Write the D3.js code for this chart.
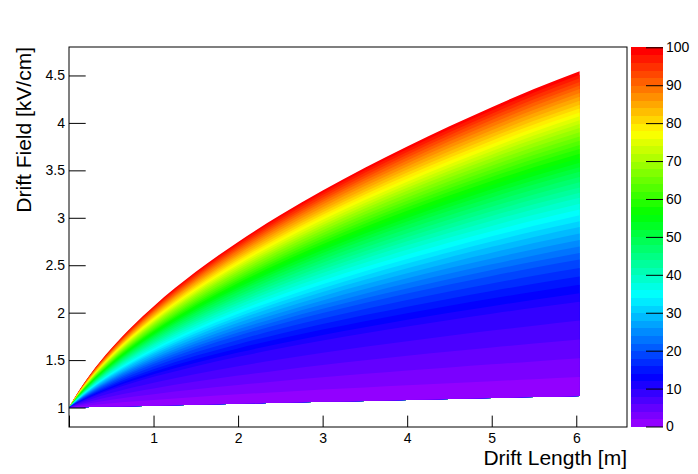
<!DOCTYPE html>
<html><head><meta charset="utf-8">
<script src="https://cdn.jsdelivr.net/npm/d3@7"></script>
<style>
body{margin:0;background:#fff}
svg{display:block}
text{font-family:"Liberation Sans",Arial,Helvetica,sans-serif;fill:#000}
</style>
</head><body>
<svg id="chart" width="698" height="474"></svg>
<script>
// ---- data ----
const driftLength = [0, 0.1, 0.25, 0.5, 0.75, 1, 1.5, 2, 2.5, 3, 3.5, 4, 4.5, 5, 5.5, 6.04]; // m
const fieldUpper  = [1, 1.152, 1.348, 1.623, 1.858, 2.066, 2.43, 2.746, 3.029, 3.288, 3.528, 3.752, 3.964, 4.165, 4.357, 4.545]; // kV/cm, value 100 edge
const fieldLower  = [1, 1.002, 1.005, 1.01, 1.015, 1.02, 1.03, 1.04, 1.05, 1.06, 1.07, 1.08, 1.09, 1.10, 1.11, 1.123]; // kV/cm, value 0 edge
const zLevels       = [0, 10, 20, 30, 40, 50, 60, 70, 80, 90, 100];
const levelFraction = [0, 0.29, 0.42, 0.52, 0.61, 0.69, 0.76, 0.825, 0.885, 0.945, 1]; // position between edges
const xTicks = [0, 1, 2, 3, 4, 5, 6];
const yTicks = [1, 1.5, 2, 2.5, 3, 3.5, 4, 4.5];
const zTicks = [0, 10, 20, 30, 40, 50, 60, 70, 80, 90, 100];
const nBands = 50;

const svg = d3.select("#chart");
const L = 69, R = 627, T = 47, B = 427;
const x = d3.scaleLinear([0, 6.6], [L, R]);
const y = d3.scaleLinear([0.795, 4.8], [B, T]);
const zs = d3.scaleLinear([0, 100], [426.5, 47.3]);
const frac = d3.scaleLinear(zLevels, levelFraction);

function bandColor(k) {
  const hue = k === nBands - 1 ? 0 : 280 - (k + 1) * (280 / nBands);
  return d3.hsl(hue, 1, 0.5).formatHex();
}

const pts = driftLength.map((d, i) => ({x: d, lo: fieldLower[i], hi: fieldUpper[i]}));

// bands drawn from top value down, each covering from lower edge to its upper level
const gBands = svg.append("g");
for (let k = nBands - 1; k >= 0; k--) {
  const f = frac((k + 1) * (100 / nBands));
  const area = d3.area()
    .x(d => x(d.x))
    .y0(d => y(d.lo))
    .y1(d => y(d.lo + f * (d.hi - d.lo)))
    .curve(d3.curveMonotoneX);
  gBands.append("path").attr("d", area(pts)).attr("fill", bandColor(k));
}

// frame
svg.append("rect").attr("x", L).attr("y", T).attr("width", R - L).attr("height", B - T)
  .attr("fill", "none").attr("stroke", "#000").attr("stroke-width", 1);

const fs = 14;
// x axis
const xMinor = d3.range(0, 6.61, 0.2).map(v => +v.toFixed(2));
const gx = svg.append("g").attr("transform", `translate(0,${B})`);
gx.call(d3.axisBottom(x).tickValues(xMinor).tickFormat("").tickSize(-5.7));
gx.call(d3.axisBottom(x).tickValues(xTicks).tickFormat(d => d === 0 ? "" : d).tickSize(-11.4).tickPadding(6));
// y axis
const yMinor = d3.range(0.8, 4.81, 0.1).map(v => +v.toFixed(2));
const gy = svg.append("g").attr("transform", `translate(${L},0)`);
gy.call(d3.axisLeft(y).tickValues(yMinor).tickFormat("").tickSize(-8.4));
gy.call(d3.axisLeft(y).tickValues(yTicks).tickFormat(d3.format("~g")).tickSize(-16.7).tickPadding(4));

// palette
const gp = svg.append("g");
for (let k = 0; k < nBands; k++) {
  const z0 = k * 100 / nBands, z1 = (k + 1) * 100 / nBands;
  gp.append("rect").attr("x", 631).attr("width", 32)
    .attr("y", zs(z1)).attr("height", zs(z0) - zs(z1) + 0.5)
    .attr("fill", bandColor(k)).attr("shape-rendering", "crispEdges");
}
const gz = svg.append("g").attr("transform", "translate(663,0)");
gz.call(d3.axisRight(zs).tickValues(zTicks).tickSize(-17).tickPadding(3));

[gx, gy, gz].forEach(g => {
  g.selectAll(".domain").remove();
  g.selectAll("line").attr("stroke", "#000").attr("stroke-width", 1);
  g.selectAll("text").style("font-family", '"Liberation Sans",Arial,sans-serif').style("font-size", fs + "px").attr("fill", "#000");
});

// titles
svg.append("text").attr("x", R).attr("y", 465).attr("text-anchor", "end")
  .style("font-size", "21px").text("Drift Length [m]");
svg.append("text").attr("transform", `translate(31,${T}) rotate(-90)`).attr("text-anchor", "end")
  .style("font-size", "21px").text("Drift Field [kV/cm]");
</script>
</body></html>
